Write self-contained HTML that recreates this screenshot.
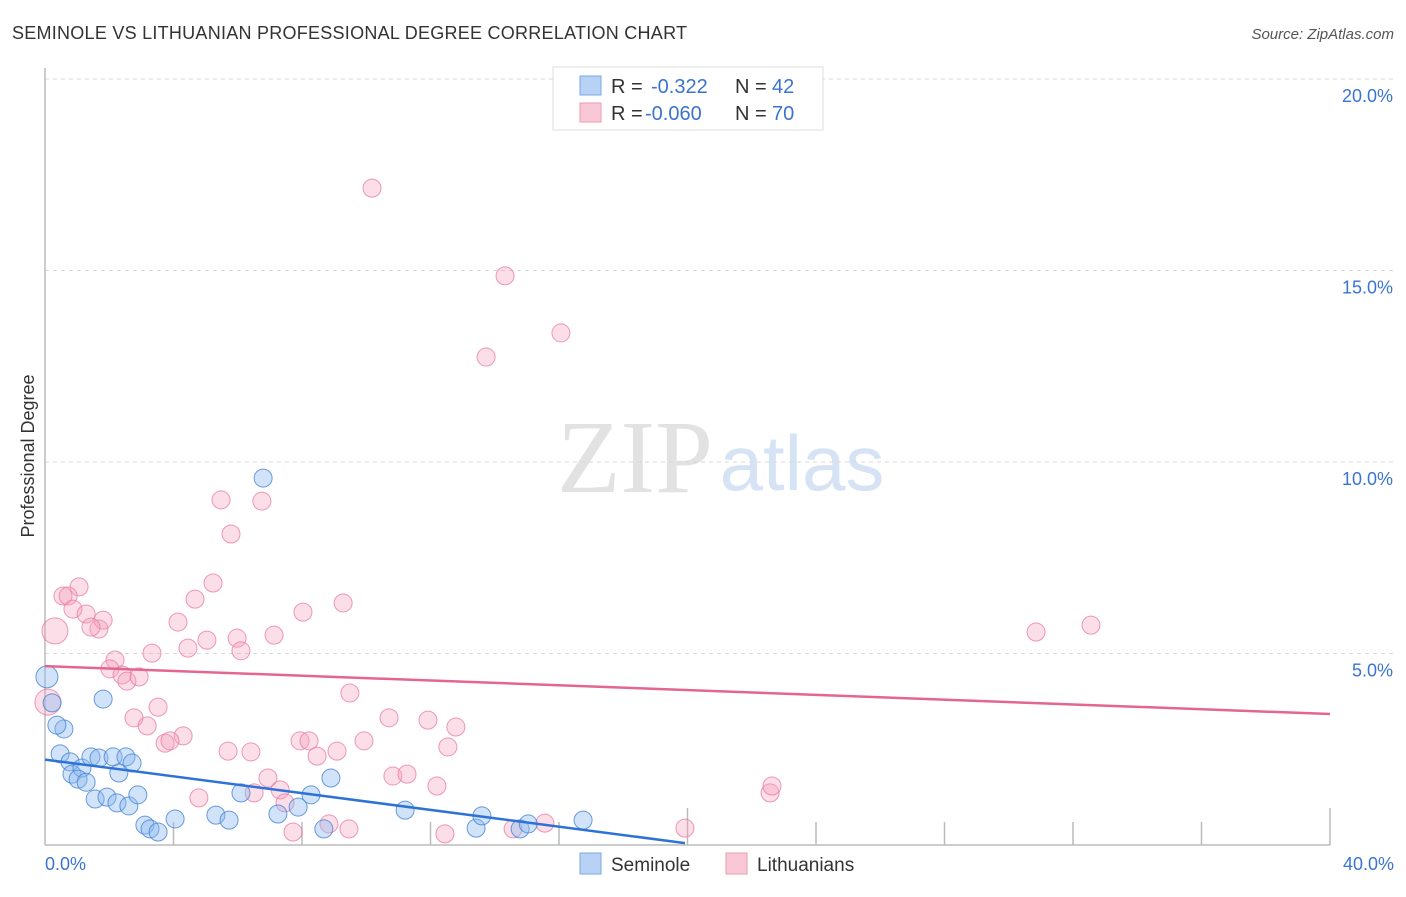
<!DOCTYPE html>
<html><head><meta charset="utf-8"><style>
body{margin:0;background:#fff;font-family:"Liberation Sans",sans-serif;}
svg text{font-family:"Liberation Sans",sans-serif;}
</style></head><body>
<svg id="chart" width="1406" height="892" viewBox="0 0 1406 892">
<text x="12" y="39" font-size="18" fill="#333" textLength="675">SEMINOLE VS LITHUANIAN PROFESSIONAL DEGREE CORRELATION CHART</text>
<text x="1394" y="39" font-size="15" fill="#555" font-style="italic" text-anchor="end">Source: ZipAtlas.com</text>
<g>
<text x="635" y="492" font-size="104" fill="#e2e2e2" text-anchor="middle" style="font-family:'Liberation Serif',serif">ZIP</text>
<text x="802" y="490" font-size="78" fill="#d5e3f5" text-anchor="middle">atlas</text>
</g>
<g id="grid"></g>
<g id="axes"></g>
<g id="marks"></g>
<text transform="translate(34,456) rotate(-90)" font-size="18" fill="#333" text-anchor="middle">Professional Degree</text>
<g>
<rect x="553" y="67" width="270" height="63" fill="#fff" stroke="#ddd"/>
<rect x="580" y="76" width="21" height="19" fill="#b8d2f5" stroke="#7aa9e6"/>
<rect x="580" y="103" width="21" height="19" fill="#f8c8d6" stroke="#ec9ab4"/>
<text x="611" y="93" font-size="20" fill="#333">R = </text><text x="651" y="93" font-size="20" fill="#3a74d0">-0.322</text>
<text x="735" y="93" font-size="20" fill="#333">N = </text><text x="772" y="93" font-size="20" fill="#3a74d0">42</text>
<text x="611" y="120" font-size="20" fill="#333">R = </text><text x="645" y="120" font-size="20" fill="#3a74d0">-0.060</text>
<text x="735" y="120" font-size="20" fill="#333">N = </text><text x="772" y="120" font-size="20" fill="#3a74d0">70</text>
</g>
<g>
<rect x="580" y="853" width="21" height="21" fill="#b8d2f5" stroke="#7aa9e6"/>
<text x="611" y="871" font-size="19" fill="#333">Seminole</text>
<rect x="726" y="853" width="21" height="21" fill="#f8c8d6" stroke="#ec9ab4"/>
<text x="757" y="871" font-size="19" fill="#333">Lithuanians</text>
</g>
</svg>
<script>
const yTicks=[5,10,15,20];
const yTickLabels=["5.0%","10.0%","15.0%","20.0%"];
const xTickVals=[4,8,12,16,20,24,28,32,36,40];
const seminoleX=[0.06,0.22,0.59,0.37,1.81,6.79,0.47,0.78,0.84,1.15,1.03,1.28,1.43,1.68,2.12,2.52,2.71,2.30,1.56,1.93,2.24,2.61,2.89,3.11,3.27,3.52,4.05,5.32,5.73,6.10,7.25,7.88,8.28,8.68,8.90,11.21,13.42,13.60,14.79,15.04,16.75];
const seminoleY=[4.39,3.71,3.03,3.13,3.81,9.58,2.38,2.17,1.85,2.01,1.72,1.64,2.30,2.27,2.30,2.30,2.14,1.88,1.20,1.25,1.10,1.02,1.31,0.52,0.42,0.34,0.68,0.78,0.65,1.36,0.81,0.99,1.31,0.42,1.75,0.91,0.44,0.76,0.42,0.55,0.65];
const lithX=[10.18,14.32,13.73,16.06,5.48,6.75,5.79,5.23,1.06,0.56,0.72,0.31,0.87,1.28,1.68,1.81,1.43,4.67,4.14,5.04,5.98,6.10,4.45,3.33,2.18,2.02,2.40,2.55,2.93,7.13,8.03,9.28,9.49,3.52,2.77,3.18,3.74,4.30,3.89,5.70,6.41,7.94,8.22,9.09,9.93,10.71,11.92,12.79,12.54,6.94,7.32,7.47,8.47,10.83,11.27,12.20,4.79,6.51,7.72,8.84,9.46,12.45,14.57,15.56,19.92,22.57,22.63,30.85,32.56,0.09];
const lithY=[17.15,14.86,12.74,13.37,9.01,8.98,8.12,6.84,6.74,6.50,6.50,5.59,6.16,6.03,5.64,5.87,5.69,6.42,5.82,5.35,5.40,5.07,5.14,5.01,4.83,4.60,4.44,4.28,4.39,5.48,6.08,6.32,3.97,3.60,3.32,3.11,2.66,2.85,2.72,2.45,2.43,2.72,2.72,2.45,2.72,3.32,3.26,3.08,2.56,1.75,1.44,1.10,2.32,1.80,1.85,1.54,1.23,1.36,0.34,0.55,0.42,0.29,0.42,0.57,0.44,1.36,1.54,5.56,5.74,3.73];
const seminoleBig=[0];
const lithBig=[11,69];
const trendSeminole=[2.23,19.92,0.05];
const trendLith=[4.67,40,3.42];
const NS="http://www.w3.org/2000/svg";
const X0=45,X1=1330,Y0=845,PX=38.3;
function sx(v){return X0+v*(X1-X0)/40;}
function sy(v){return Y0-v*PX;}
function mk(tag,attrs,parent){const e=document.createElementNS(NS,tag);for(const k in attrs)e.setAttribute(k,attrs[k]);parent.appendChild(e);return e;}
const grid=document.getElementById('grid'),axes=document.getElementById('axes'),marks=document.getElementById('marks');
yTicks.forEach((t,i)=>{
 const l=mk('line',{x1:X0,x2:1395,y1:sy(t),y2:sy(t),stroke:'#d8d8d8','stroke-dasharray':'4,4'},grid);
 
 
 const tx=mk('text',{x:1393,y:sy(t)+23,'font-size':18,fill:'#3a74d0','text-anchor':'end'},grid);
 tx.textContent=yTickLabels[i];
 
 
});
const ax=mk('line',{x1:X0,x2:X1,y1:Y0,y2:Y0,stroke:'#bbb','stroke-width':1.5},axes);


const ay=mk('line',{x1:X0,x2:X0,y1:68,y2:Y0,stroke:'#bbb','stroke-width':1.5},axes);


xTickVals.forEach(t=>{
 const tall=(t===20||t===40);
 const l=mk('line',{x1:sx(t),x2:sx(t),y1:tall?808:822,y2:Y0,stroke:'#bbb','stroke-width':1.5},axes);
 
 
});
const xl0=mk('text',{x:45,y:870,'font-size':18,fill:'#3a74d0'},axes);xl0.textContent='0.0%';


const xl1=mk('text',{x:1394,y:870,'font-size':18,fill:'#3a74d0','text-anchor':'end'},axes);xl1.textContent='40.0%';


lithX.forEach((v,i)=>{
 const c=mk('circle',{cx:sx(v),cy:sy(lithY[i]),r:lithBig.includes(i)?13:9,fill:'rgba(244,160,188,0.35)',stroke:'rgba(232,120,156,0.75)','stroke-width':1},marks);
 
 
});
seminoleX.forEach((v,i)=>{
 const c=mk('circle',{cx:sx(v),cy:sy(seminoleY[i]),r:seminoleBig.includes(i)?11:9,fill:'rgba(140,184,238,0.4)',stroke:'rgba(70,130,215,0.8)','stroke-width':1},marks);
 
 
});
const tl=mk('line',{x1:sx(0),y1:sy(trendLith[0]),x2:sx(trendLith[1]),y2:sy(trendLith[2]),stroke:'#e4668f','stroke-width':2.5},marks);


const ts=mk('line',{x1:sx(0),y1:sy(trendSeminole[0]),x2:sx(trendSeminole[1]),y2:sy(trendSeminole[2]),stroke:'#2f72d6','stroke-width':2.5},marks);


</script>
</body></html>
